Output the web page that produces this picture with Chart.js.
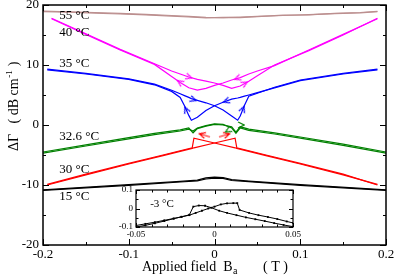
<!DOCTYPE html>
<html>
<head>
<meta charset="utf-8">
<script src="https://cdn.jsdelivr.net/npm/chart.js@4.4.0/dist/chart.umd.min.js"></script>
<style>
  html, body { margin: 0; padding: 0; background: #fff; }
  #wrap { position: relative; width: 395px; height: 278px; }
  #main { position: absolute; left: 0; top: 0; }
  #inset { position: absolute; left: 114px; top: 186px; }
</style>
</head>
<body>
<div id="wrap">
  <canvas id="main" width="395" height="278"></canvas>
  <canvas id="inset" width="188" height="53"></canvas>
</div>
<script>
// Dados (campo em T, atenuação em dB/cm)

const field55 = [-0.2, -0.17, -0.14, -0.11, -0.08, -0.05, -0.03, -0.01, 0.01, 0.03, 0.05, 0.08, 0.11, 0.14, 0.17, 0.19];
const up55 = [19.0, 18.85, 18.75, 18.6, 18.45, 18.25, 18.1, 17.95, 17.9, 18.0, 18.1, 18.25, 18.4, 18.55, 18.7, 18.9];
const down55 = [18.9, 18.8, 18.65, 18.5, 18.35, 18.15, 18.0, 17.85, 17.95, 17.9, 18.05, 18.3, 18.35, 18.6, 18.75, 18.95];

const field40 = [-0.19, -0.15, -0.11, -0.07, -0.05, -0.04, -0.03, -0.02, -0.01, 0, 0.01, 0.02, 0.03, 0.04, 0.05, 0.07, 0.11, 0.15, 0.19];
const up40 = [17.8, 15.2, 12.6, 10.2, 9.0, 8.5, 8.0, 7.6, 7.3, 7.0, 6.6, 6.1, 6.5, 7.3, 8.2, 10.0, 12.4, 15.0, 17.8];
const down40 = [17.7, 15.1, 12.5, 10.1, 8.1, 7.1, 6.2, 5.8, 6.1, 6.6, 7.0, 7.5, 7.9, 8.5, 9.0, 9.9, 12.5, 15.1, 17.7];

const field35 = [-0.195, -0.15, -0.1, -0.07, -0.05, -0.04, -0.035, -0.03, -0.027, -0.02, -0.01, 0, 0.01, 0.02, 0.027, 0.03, 0.035, 0.04, 0.05, 0.07, 0.1, 0.15, 0.19];
const up35 = [9.3, 8.6, 7.7, 6.8, 5.8, 5.2, 4.9, 4.6, 4.4, 4.1, 3.7, 3.2, 2.5, 1.5, 0.8, 1.5, 3.3, 4.8, 5.3, 6.3, 7.5, 8.6, 9.3];
const down35 = [9.2, 8.5, 7.6, 6.7, 5.6, 4.6, 3.2, 1.6, 0.8, 1.3, 2.4, 3.2, 3.8, 4.3, 4.5, 4.6, 4.8, 5.0, 5.4, 6.2, 7.4, 8.5, 9.2];

const field326 = [-0.2, -0.15, -0.1, -0.07, -0.04, -0.03, -0.025, -0.02, -0.01, 0, 0.01, 0.02, 0.025, 0.03, 0.04, 0.07, 0.1, 0.15, 0.2];
const up326 = [-4.5, -3.3, -2.1, -1.4, -0.8, -0.5, -1.3, -0.6, -0.2, 0.1, 0.0, -0.3, -1.2, -0.3, -0.7, -1.3, -2.0, -3.2, -4.5];
const down326 = [-4.7, -3.5, -2.3, -1.6, -1.0, -0.7, -1.0, -0.5, -0.1, 0.2, 0.1, -0.5, -1.4, -0.5, -0.9, -1.5, -2.2, -3.4, -4.7];

const field30 = [-0.195, -0.15, -0.1, -0.06, -0.026, -0.024, 0, 0.024, 0.026, 0.06, 0.1, 0.15, 0.19];
const up30 = [-9.9, -8.2, -6.4, -5.0, -3.8, -2.2, -3.0, -3.8, -3.9, -5.1, -6.5, -8.3, -9.9];
const down30 = [-10.0, -8.3, -6.5, -5.1, -3.9, -3.8, -3.0, -2.2, -3.8, -5.0, -6.4, -8.2, -10.0];

const field15 = [-0.2, -0.1, -0.04, -0.02, -0.01, 0, 0.01, 0.02, 0.04, 0.1, 0.2];
const up15 = [-10.8, -9.95, -9.4, -9.2, -8.8, -8.7, -8.75, -9.1, -9.35, -9.95, -10.8];
const down15 = [-10.9, -10.05, -9.5, -9.3, -9.0, -8.85, -8.9, -9.25, -9.45, -10.05, -10.9];

// setas (posição e direção em graus, sentido horário)
const arrowField40 = [-0.03, -0.04, 0.027, 0.035];
const arrowGamma40 = [8.0, 7.1, 7.8, 6.9];
const arrowAngle40 = [18, 214, 160, 331];

const arrowField35 = [-0.025, -0.033, 0.014, 0.033];
const arrowGamma35 = [4.25, 2.5, 4.0, 2.6];
const arrowAngle35 = [19, 246, 161, 292];

const arrowField326 = [0.031, 0.016];
const arrowGamma326 = [0.0, -0.9];
const arrowAngle326 = [0, 150];

const arrowField30 = [-0.012, 0.012];
const arrowGamma30 = [-1.7, -1.7];
const arrowAngle30 = [197, 343];

// rótulos das temperaturas
const tempLabels = ["55 °C", "40 °C", "35 °C", "32.6 °C", "30 °C", "15 °C"];
const tempLabelGamma = [17.7, 14.8, 9.7, -2.5, -8.0, -12.5];
const tempLabelField = -0.181;

// inset: -3 °C
const insetFieldA = [-0.05, -0.044, -0.038, -0.032, -0.026, -0.021, -0.016, -0.0135, -0.01, -0.006, -0.002, 0.003, 0.008, 0.014, 0.02, 0.026, 0.032, 0.038, 0.044, 0.05];
const insetGammaA = [-0.1, -0.091, -0.08, -0.068, -0.055, -0.045, -0.034, 0.01, 0.016, 0.015, 0.004, -0.012, -0.024, -0.036, -0.048, -0.058, -0.068, -0.079, -0.089, -0.098];
const insetFieldB = [-0.05, -0.044, -0.038, -0.032, -0.026, -0.021, -0.016, -0.012, -0.008, -0.004, 0, 0.004, 0.008, 0.012, 0.0145, 0.016, 0.022, 0.028, 0.034, 0.04, 0.046, 0.05];
const insetGammaB = [-0.092, -0.083, -0.074, -0.064, -0.054, -0.045, -0.036, -0.024, -0.012, 0.0, 0.01, 0.022, 0.028, 0.029, 0.029, -0.008, -0.024, -0.036, -0.046, -0.057, -0.07, -0.078];

const serif = '"Liberation Serif", "Times New Roman", serif';

function pontos(xs, ys) {
  return xs.map((x, i) => ({ x: x, y: ys[i] }));
}

function curva(xs, ys, cor) {
  return {
    data: pontos(xs, ys),
    borderColor: cor,
    borderWidth: 1.2,
    showLine: true,
    pointRadius: 0,
    fill: false,
  };
}

function imagemSeta(cor, haste) {
  const c = document.createElement("canvas");
  c.width = haste ? 12 : 8;
  c.height = 8;
  const g = c.getContext("2d");
  g.strokeStyle = cor;
  g.lineWidth = 1.2;
  g.beginPath();
  g.moveTo(c.width - 7, 1);
  g.lineTo(c.width - 1, 4);
  g.lineTo(c.width - 7, 7);
  if (haste) {
    g.moveTo(0, 4);
    g.lineTo(c.width - 1, 4);
  }
  g.stroke();
  return c;
}

function setas(xs, ys, ang, cor, haste) {
  return {
    data: pontos(xs, ys),
    showLine: false,
    pointStyle: imagemSeta(cor, haste),
    pointRadius: 4,
    pointRotation: ang,
  };
}

// Marcas de escala para dentro, nos quatro lados, e moldura
const ticksInside = {
  id: "ticksInside",
  afterDraw(chart, args, o) {
    const { ctx, chartArea: a } = chart;
    const sx = chart.scales.x;
    const sy = chart.scales.y;
    ctx.save();
    ctx.strokeStyle = "#000";
    ctx.lineWidth = 1;
    ctx.beginPath();
    const marks = (scale, step, len, horiz) => {
      const n = Math.round((scale.max - scale.min) / step);
      for (let i = 0; i <= n; i++) {
        const p = Math.round(scale.getPixelForValue(scale.min + i * step)) + 0.5;
        if (horiz) {
          ctx.moveTo(p, a.bottom);
          ctx.lineTo(p, a.bottom - len);
          ctx.moveTo(p, a.top);
          ctx.lineTo(p, a.top + len);
        } else {
          ctx.moveTo(a.left, p);
          ctx.lineTo(a.left + len, p);
          ctx.moveTo(a.right, p);
          ctx.lineTo(a.right - len, p);
        }
      }
    };
    marks(sx, o.xMinor, o.minor, true);
    marks(sx, o.xMajor, o.major, true);
    marks(sy, o.yMinor, o.minor, false);
    marks(sy, o.yMajor, o.major, false);
    ctx.stroke();
    ctx.lineWidth = o.frame;
    ctx.strokeRect(a.left, a.top, a.right - a.left, a.bottom - a.top);
    ctx.restore();
  },
};

// Textos do gráfico principal
const mainText = {
  id: "mainText",
  afterDraw(chart) {
    const { ctx } = chart;
    const sx = chart.scales.x;
    const sy = chart.scales.y;
    ctx.save();
    ctx.fillStyle = "#000";
    ctx.textBaseline = "alphabetic";
    ctx.textAlign = "left";
    ctx.font = "13px " + serif;
    tempLabels.forEach((t, i) => {
      ctx.fillText(t, sx.getPixelForValue(tempLabelField), sy.getPixelForValue(tempLabelGamma[i]));
    });

    // título do eixo x
    ctx.font = "14px " + serif;
    const t1 = "Applied field  B";
    ctx.fillText(t1, 142, 271);
    const w1 = ctx.measureText(t1).width;
    ctx.font = "10px " + serif;
    ctx.fillText("a", 142 + w1 + 0.5, 274);
    ctx.font = "14px " + serif;
    ctx.fillText("( T )", 263, 271);

    // título do eixo y
    ctx.translate(18, 151);
    ctx.rotate(-Math.PI / 2);
    const t2 = "ΔΓ   ( dB cm";
    ctx.fillText(t2, 0, 0);
    const w2 = ctx.measureText(t2).width;
    ctx.font = "9px " + serif;
    ctx.fillText("-1", w2 + 0.5, -6);
    const w3 = ctx.measureText("-1").width;
    ctx.font = "14px " + serif;
    ctx.fillText(" )", w2 + w3 + 1, 0);
    ctx.restore();
  },
};

const datasetsMain = [
  curva(field55, up55, "#bc8f8f"),
  curva(field55, down55, "#bc8f8f"),
  curva(field40, up40, "#ff00ff"),
  curva(field40, down40, "#ff00ff"),
  setas(arrowField40, arrowGamma40, arrowAngle40, "#ff00ff", false),
  curva(field35, up35, "#0000ff"),
  curva(field35, down35, "#0000ff"),
  setas(arrowField35, arrowGamma35, arrowAngle35, "#0000ff", false),
  curva(field326, up326, "#008000"),
  curva(field326, down326, "#008000"),
  setas(arrowField326, arrowGamma326, arrowAngle326, "#008000", false),
  curva(field30, up30, "#ff0000"),
  curva(field30, down30, "#ff0000"),
  setas(arrowField30, arrowGamma30, arrowAngle30, "#ff0000", true),
  curva(field15, up15, "#000000"),
  curva(field15, down15, "#000000"),
];

new Chart(document.getElementById("main"), {
  type: "scatter",
  data: { datasets: datasetsMain },
  options: {
    responsive: false,
    animation: false,
    events: [],
    layout: { padding: { left: 0, right: 9, top: 5, bottom: 0 } },
    plugins: {
      legend: { display: false },
      tooltip: { enabled: false },
      ticksInside: { xMajor: 0.1, xMinor: 0.05, yMajor: 10, yMinor: 5, major: 6, minor: 3, frame: 1.5 },
    },
    scales: {
      x: {
        type: "linear",
        min: -0.2,
        max: 0.2,
        grid: { display: false, drawTicks: false },
        border: { display: false },
        ticks: { stepSize: 0.1, color: "#000", padding: 2, maxRotation: 0, font: { family: serif, size: 13 } },
        afterFit(s) {
          s.height = 33;
          s.paddingLeft = 0;
          s.paddingRight = 0;
        },
      },
      y: {
        min: -20,
        max: 20,
        grid: { display: false, drawTicks: false },
        border: { display: false },
        ticks: { stepSize: 10, color: "#000", padding: 4, font: { family: serif, size: 13 } },
        afterFit(s) {
          s.width = 43;
          s.paddingTop = 0;
          s.paddingBottom = 0;
        },
      },
    },
  },
  plugins: [ticksInside, mainText],
});

// Inset -3 °C

const insetText = {
  id: "insetText",
  beforeDraw(chart) {
    const { ctx, chartArea: a } = chart;
    ctx.save();
    ctx.fillStyle = "#fff";
    ctx.fillRect(a.left, a.top, a.right - a.left, a.bottom - a.top);
    ctx.restore();
  },
  afterDraw(chart) {
    const { ctx } = chart;
    ctx.save();
    ctx.fillStyle = "#000";
    ctx.font = "11px " + serif;
    ctx.fillText("-3 °C", chart.scales.x.getPixelForValue(-0.041), chart.scales.y.getPixelForValue(0.008));
    ctx.restore();
  },
};

function curvaInset(xs, ys) {
  return {
    data: pontos(xs, ys),
    borderColor: "#000",
    backgroundColor: "#000",
    borderWidth: 1,
    showLine: true,
    pointStyle: "rect",
    pointRadius: 1.3,
    pointBorderWidth: 0,
  };
}

new Chart(document.getElementById("inset"), {
  type: "scatter",
  data: { datasets: [curvaInset(insetFieldA, insetGammaA), curvaInset(insetFieldB, insetGammaB)] },
  options: {
    responsive: false,
    animation: false,
    events: [],
    layout: { padding: { left: 0, right: 9, top: 4, bottom: 0 } },
    plugins: {
      legend: { display: false },
      tooltip: { enabled: false },
      ticksInside: { xMajor: 0.05, xMinor: 0.01, yMajor: 0.1, yMinor: 0.05, major: 4, minor: 2.5, frame: 1.2 },
    },
    scales: {
      x: {
        type: "linear",
        min: -0.05,
        max: 0.05,
        grid: { display: false, drawTicks: false },
        border: { display: false },
        ticks: { stepSize: 0.05, color: "#000", padding: 2, maxRotation: 0, font: { family: serif, size: 9 } },
        afterFit(s) {
          s.height = 12;
          s.paddingLeft = 0;
          s.paddingRight = 0;
        },
      },
      y: {
        min: -0.1,
        max: 0.1,
        grid: { display: false, drawTicks: false },
        border: { display: false },
        ticks: { stepSize: 0.1, color: "#000", padding: 3, font: { family: serif, size: 9 } },
        afterFit(s) {
          s.width = 22;
          s.paddingTop = 0;
          s.paddingBottom = 0;
        },
      },
    },
  },
  plugins: [ticksInside, insetText],
});
</script>
</body>
</html>
